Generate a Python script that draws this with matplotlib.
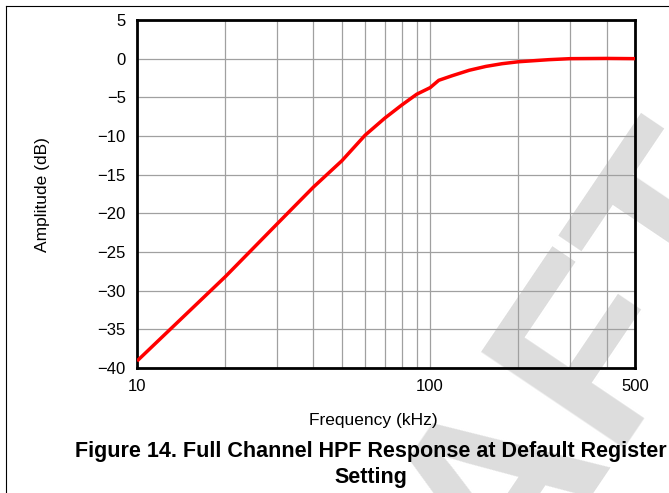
import numpy as np
import matplotlib
matplotlib.use("Agg")
import matplotlib.pyplot as plt
from matplotlib.lines import Line2D

# Full channel HPF response
freq_khz = [10, 20, 30, 40, 50, 60, 70, 80, 90, 100, 107, 119, 136, 155, 176, 200, 254, 300, 400, 500]
amp_db = [-39.1, -28.2, -21.4, -16.6, -13.2, -9.9, -7.7, -6.0, -4.6, -3.75, -2.8, -2.2, -1.5,
          -1.0, -0.65, -0.4, -0.13, 0.0, 0.03, 0.0]

x_major = [10, 100, 500]
x_minor = [20, 30, 40, 50, 60, 70, 80, 90, 200, 300, 400]
y_ticks = [5, 0, -5, -10, -15, -20, -25, -30, -35, -40]

W, H = 669, 493
plt.rcParams['font.family'] = 'Liberation Sans'

fig = plt.figure(figsize=(W / 100, H / 100), dpi=100)

# axes box in pixel coords of the reference
left, right, top, bottom = 137, 635, 20, 368
ax = fig.add_axes([left / W, 1 - bottom / H, (right - left) / W, (bottom - top) / H])
ax.set_facecolor('none')

ax.semilogx(freq_khz, amp_db, color='#ff0000', linewidth=2.5, solid_capstyle='butt', zorder=3)

ax.set_xlim(10, 500)
ax.set_ylim(-40, 5)
ax.set_xticks(x_major)
ax.set_xticklabels([str(v) for v in x_major])
ax.set_xticks(x_minor, minor=True)
ax.set_xticklabels([], minor=True)
ax.set_yticks(y_ticks)
ax.set_yticklabels([f'{v}'.replace('-', '\u2212') for v in y_ticks])

ax.tick_params(axis='both', which='both', length=0, labelsize=12)
ax.tick_params(axis='x', pad=8)
ax.tick_params(axis='y', pad=8)
ax.grid(True, which='both', color='#a0a0a0', linewidth=0.9)
ax.set_axisbelow(True)
for sp in ax.spines.values():
    sp.set_linewidth(2.0)
    sp.set_color('black')

# axis titles and caption
fig.text(373 / W, 1 - 421 / H, 'Frequency (kHz)', ha='center', va='center', fontsize=12.5)
fig.text(42 / W, 1 - 195 / H, 'Amplitude (dB)', ha='center', va='center', rotation=90, fontsize=12.5)
fig.text(371 / W, 1 - 451 / H, 'Figure 14. Full Channel HPF Response at Default Register',
         ha='center', va='center', fontsize=15.5, fontweight='bold')
fig.text(371 / W, 1 - 477 / H, 'Setting', ha='center', va='center', fontsize=15.5, fontweight='bold')

# page frame lines
fig.add_artist(Line2D([6 / W, 6 / W], [0, 1 - 6 / H], color='black', linewidth=0.8))
fig.add_artist(Line2D([6 / W, 1], [1 - 6 / H, 1 - 6 / H], color='black', linewidth=0.8))

# draft watermark behind everything
fig.text(779 / W, 1 - 192 / H, 'DRAFT', rotation=56, rotation_mode='anchor',
         ha='right', va='baseline', fontsize=181, fontweight='bold', color='#dddddd', zorder=-1)

fig.savefig('out.png', dpi=100)
